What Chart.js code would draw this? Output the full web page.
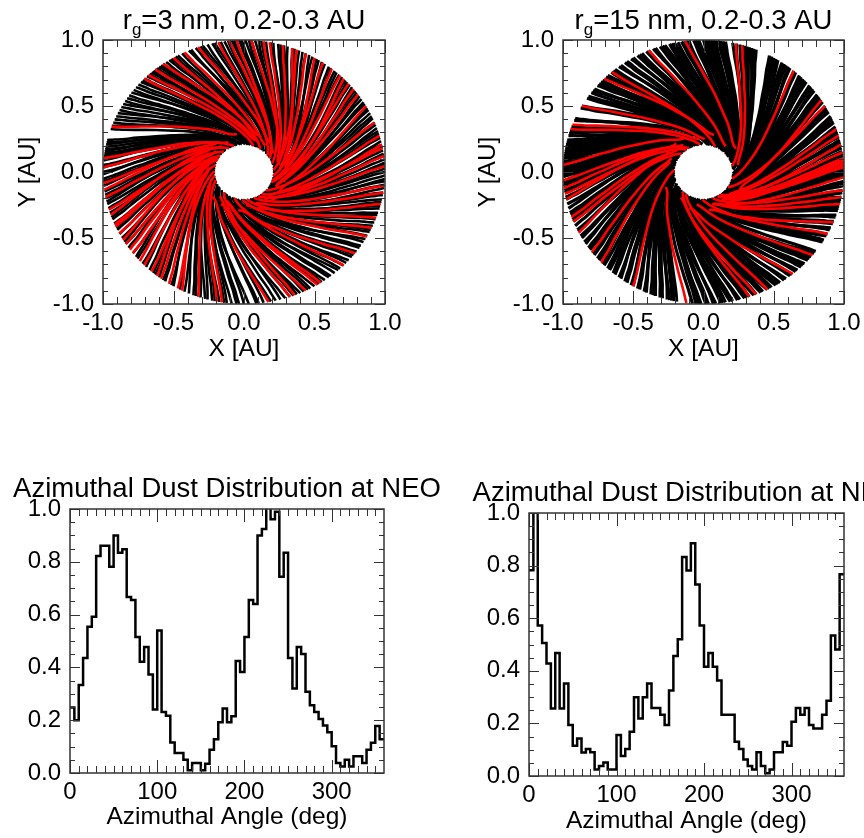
<!DOCTYPE html>
<html>
<head>
<meta charset="utf-8">
<style>
html,body{margin:0;padding:0;background:#fff;}
#page{position:relative;width:864px;height:838px;overflow:hidden;background:#fff;}
canvas{position:absolute;}
</style>
<script src="https://cdn.jsdelivr.net/npm/chart.js@4"></script>
</head>
<body>
<div id="page">
<canvas id="c1"></canvas><canvas id="c2"></canvas><canvas id="c3"></canvas><canvas id="c4"></canvas>
</div>
<script>
// Trajectory shapes: radius (AU) and angular lag behind the rim point (deg),
// for launch radii near 0.21, 0.25 and 0.29 AU
const trackRadiiNear=[1.0,0.95,0.9,0.8,0.7,0.6,0.5,0.45,0.4,0.35,0.3,0.27,0.25,0.23,0.21];
const trackLagNear=[0,0.8,1.8,4.5,8,12.5,19,23,28,34,42,48,53,58,64];
const trackRadiiMid=[1.0,0.95,0.9,0.8,0.7,0.6,0.5,0.45,0.4,0.35,0.3,0.27,0.25];
const trackLagMid=[0,1,2,5,8.5,13.5,20,24.5,30,37,46,53,62];
const trackRadiiFar=[1.0,0.95,0.9,0.8,0.7,0.6,0.5,0.45,0.4,0.35,0.3,0.29];
const trackLagFar=[0,1.1,2.3,5.5,9.5,15,22,27,33.5,41,52,60];
const launchPattern=[0,1,0,2,1,0,2,1,1,0,2];

// Rim angles (deg) of trajectories, left panel
const blackRimA=[0,1.5,3,4,5.5,7,8,9.5,11,12,13.5,15,17,18,19.5,21,22,24,25,26.5,28,29,31,32,33.5,35,37,38,40,41.5,43,44,46,47.5,49,50,52,53,55,56.5,58,59,61,62.5,64,65.5,67,69,70,72,73.5,75,76,78,79,81,83,84,85.5,87,88,89.5,91,92,94,95,96.5,98,99.5,102,103,105,107,108,110,112,113,116,118,119,121,122,123.5,125,126,127,128,129,130,131,132,133.5,135,136,137,138.5,140,141.5,143,144.5,146,147.5,149,150.5,152,153.5,155,156.5,158,159.5,161,166,167,168,169,170,171,172,173,174,175,177,178,180,181,183,184,186,188.5,190,191.5,193,194,196,198,200,201,203,205,206,208,210,212,213,215,218,220,221,224,226,228,230,231,233,235,236,239,240,243,245,247,249,250,252,254,255,257,258,260,262,263,265,267,268,270,272,275,276,278,281,283,285,287,289,290.5,292,293.5,295,297,298,300,302,303.5,305,307,308,310,312,313,315,316.5,318,320,321,323,325,326,328,329.5,331,333,334,336,337.5,339,341,342,344,345,347,348,350,351,353,354.5,356,357,358.5];
const redRimA=[2.5,7,10.4,12,16,22,30,36,39,42,45,47,51.5,56,60,64,68,70,74,79.5,82,87,93,96,100.5,109,115,120,125,129,132.7,135,160,174,178,184.8,187.7,191,196.6,199,203.5,204.5,207.7,210.9,213,216,218,222.4,225,229,232,234,237.9,242,244,251,259,261,280,289,291,296,301.4,303,315,322,330.7,335,339.7,346,351,354];

// Rim angles (deg) of trajectories, right panel
const blackRimB=[0,1,2,3,4.5,6,7,8,9,10.5,12,13,14,15.5,17,18,19,20,22,23,24,25,27,28,29,30,32,33,34,35,36,38,39,40,41,43,44,45,46,47,49,50,52,53,54,55,56,58,59,60,61,62,68,69,70,71,72,73,74,75,76.5,78,81,82,83,84,85,86,87,88,89,90,92,93,94,96,97,98,99,100.5,102,103,104,106,107,108,110,111,113,114,116,117,118,120,121,123,124,126,127,129,130,131,133,134,136,137,138,139,141,142,143,145,146,150,151,156,157,160,161,162,163,164,166,167,168,169,170,171,172,173,174,175,176,178,179,180,181,182,184,185,186,188,189,191,192,194,196,198,199,201,202,204,206,207,209,210,212,213,215,216,218,219,221,222,224,225,227,228,230,231,233,234,236,237,239,240,242,243,245,246,248,249,250,252,253,255,256,257,258,259,265.5,267,268,269,271,272,274,275,277,278,279,281,282,284,285,287,288,289,291,292,294,295,297,298,299,301,302,303,305,306,308,309,311,312,314,315,316,318,319,320,322,323,328,329,331,332,334,335,337,338,340,341,343,344,345,347,348,349,351,352,354,355,356,358,359];
const redRimB=[2,3,4,5,6,8.5,12,16,19,30,33,50,74,76.6,97.5,113,130.7,135,150,159,161,177,183.6,187,189.5,192,200,202,207.4,217.4,223.3,240,263,289,292,297,309.5,321,332,337.6,346,349,352,357.7];

// Histogram: bin left edges (deg) and bin values
const binEdges=[0,5,10,15,20,25,30,35,40,45,50,55,60,65,70,75,80,85,90,95,100,105,110,115,120,125,130,135,140,145,150,155,160,165,170,175,180,185,190,195,200,205,210,215,220,225,230,235,240,245,250,255,260,265,270,275,280,285,290,295,300,305,310,315,320,325,330,335,340,345,350,355,360];
const histLeft=[0.248,0.2,0.333,0.436,0.554,0.592,0.822,0.861,0.861,0.781,0.9,0.834,0.848,0.667,0.655,0.515,0.421,0.477,0.373,0.241,0.54,0.231,0.217,0.116,0.076,0.076,0.05,0.01,0.038,0.038,0.01,0.035,0.088,0.128,0.192,0.244,0.192,0.215,0.424,0.383,0.515,0.655,0.64,0.9,0.924,1.03,0.961,0.99,0.743,0.834,0.436,0.32,0.477,0.451,0.308,0.257,0.231,0.205,0.18,0.154,0.101,0.038,0.025,0.05,0.025,0.063,0.063,0.038,0.088,0.115,0.178,0.128,0.128];
const histRight=[0.782,1.2,0.572,0.506,0.428,0.257,0.468,0.257,0.352,0.194,0.115,0.143,0.089,0.103,0.09,0.025,0.038,0.051,0.025,0.025,0.156,0.076,0.103,0.168,0.299,0.219,0.299,0.352,0.259,0.259,0.233,0.194,0.325,0.456,0.52,0.833,0.781,0.885,0.728,0.572,0.415,0.468,0.415,0.363,0.233,0.233,0.233,0.13,0.103,0.063,0.038,0.025,0.09,0.038,0.01,0.025,0.09,0.09,0.129,0.115,0.206,0.259,0.233,0.259,0.194,0.181,0.181,0.233,0.286,0.534,0.481,0.767,0.767];

// Tick marks
const spatialMajor=[-1,-0.5,0,0.5,1];
const spatialMinor=[-0.9,-0.8,-0.7,-0.6,-0.4,-0.3,-0.2,-0.1,0.1,0.2,0.3,0.4,0.6,0.7,0.8,0.9];
const angleMajor=[0,100,200,300];
const angleMinor=[10,20,30,40,50,60,70,80,90,110,120,130,140,150,160,170,180,190,210,220,230,240,250,260,270,280,290,310,320,330,340,350];
const fracMajor=[0,0.2,0.4,0.6,0.8,1];
const fracMinor=[0.05,0.1,0.15,0.25,0.3,0.35,0.45,0.5,0.55,0.65,0.7,0.75,0.85,0.9,0.95];

const titleLeftParts=['r','g','=3 nm, 0.2-0.3 AU'];
const titleRightParts=['r','g','=15 nm, 0.2-0.3 AU'];
const titleHist=['Azimuthal Dust Distribution at NEO','',''];

const FONT='"Liberation Sans", Arial, sans-serif';
const TICKPX=24, TITLEPX=27.5, LABELPX=24.5;

const frame={
  id:'frame',
  afterDraw(chart,args,o){
    const {ctx,chartArea:a,scales:{x,y}}=chart;
    ctx.save();
    ctx.strokeStyle='#333';
    ctx.lineWidth=1;
    const tick=(v,len,axis)=>{
      ctx.beginPath();
      if(axis==='x'){
        const p=Math.round(x.getPixelForValue(v))+0.5;
        ctx.moveTo(p,a.bottom);ctx.lineTo(p,a.bottom-len);
        ctx.moveTo(p,a.top);ctx.lineTo(p,a.top+len);
      }else{
        const p=Math.round(y.getPixelForValue(v))+0.5;
        ctx.moveTo(a.left,p);ctx.lineTo(a.left+len,p);
        ctx.moveTo(a.right,p);ctx.lineTo(a.right-len,p);
      }
      ctx.stroke();
    };
    o.xMajor.forEach(v=>tick(v,13,'x'));
    o.xMinor.forEach(v=>tick(v,7,'x'));
    o.yMajor.forEach(v=>tick(v,10,'y'));
    o.yMinor.forEach(v=>tick(v,5,'y'));
    ctx.lineWidth=1.5;
    ctx.strokeRect(a.left,a.top,a.right-a.left,a.bottom-a.top);
    const big=TITLEPX+'px '+FONT, small=Math.round(TITLEPX*0.62)+'px '+FONT;
    ctx.fillStyle='#000';
    ctx.textBaseline='alphabetic';
    ctx.textAlign='left';
    ctx.font=big;const w1=ctx.measureText(o.head[0]).width,w3=ctx.measureText(o.head[2]).width;
    ctx.font=small;const w2=ctx.measureText(o.head[1]).width;
    let px=(a.left+a.right)/2-(w1+w2+w3)/2;
    const by=o.headY;
    ctx.font=big;ctx.fillText(o.head[0],px,by);px+=w1;
    if(o.head[1]){ctx.font=small;ctx.fillText(o.head[1],px,by+6);px+=w2;}
    if(o.head[2]){ctx.font=big;ctx.fillText(o.head[2],px,by);}
    ctx.restore();
  }
};

const shapeRadii=[trackRadiiNear,trackRadiiMid,trackRadiiFar];
const shapeLag=[trackLagNear,trackLagMid,trackLagFar];
function spiral(rimDeg,color,width,idx){
  const s=launchPattern[idx%launchPattern.length];
  const pts=shapeRadii[s].map((r,i)=>{
    const t=(rimDeg-shapeLag[s][i])*Math.PI/180;
    return {x:r*Math.cos(t),y:r*Math.sin(t)};
  });
  return {data:pts,borderColor:color,borderWidth:width,pointRadius:0,tension:0.4,fill:false};
}

function axisBase(min,max,step,fmt,titleText,titlePad,size,isX){
  return {
    type:'linear',min,max,
    grid:{display:false,drawTicks:false},
    border:{display:false},
    ticks:{stepSize:step,includeBounds:false,autoSkip:false,maxRotation:0,minRotation:0,padding:isX?5:9,color:'#000',
      font:{family:FONT,size:TICKPX},callback:fmt},
    title:{display:!!titleText,text:titleText||'',color:'#000',font:{family:FONT,size:LABELPX},padding:titlePad},
    afterFit(s){
      if(isX){s.height=size;}else{s.width=size;}
      s.paddingLeft=s.paddingRight=s.paddingTop=s.paddingBottom=0;
    }
  };
}

function build(id,box,plot,datasets,cfg){
  const cv=document.getElementById(id);
  cv.style.left=box.left+'px';cv.style.top=box.top+'px';
  cv.width=box.w;cv.height=box.h;
  cv.style.width=box.w+'px';cv.style.height=box.h+'px';
  const yW=plot.l-box.left, xH=box.top+box.h-plot.b;
  return new Chart(cv,{
    type:'line',
    data:{datasets},
    options:{
      responsive:false,animation:false,devicePixelRatio:1,
      parsing:false,normalized:true,
      layout:{padding:{left:0,right:box.left+box.w-plot.r,top:plot.t-box.top,bottom:0}},
      events:[],
      plugins:{
        legend:{display:false},tooltip:{enabled:false},title:{display:false},
        frame:{xMajor:cfg.xMajor,xMinor:cfg.xMinor,yMajor:cfg.yMajor,yMinor:cfg.yMinor,head:cfg.head,headY:cfg.headY-box.top}
      },
      scales:{
        x:axisBase(cfg.xMin,cfg.xMax,cfg.xStep,cfg.xFmt,cfg.xTitle,{top:0,bottom:0},xH,true),
        y:axisBase(cfg.yMin,cfg.yMax,cfg.yStep,v=>Number(v).toFixed(1),cfg.yTitle,{top:cfg.yTitlePad,bottom:0},yW,false)
      }
    },
    plugins:[frame]
  });
}

const spatialCfg={xMin:-1,xMax:1,xStep:0.5,yMin:-1,yMax:1,yStep:0.5,xFmt:v=>Number(v).toFixed(1),
  xMajor:spatialMajor,xMinor:spatialMinor,yMajor:spatialMajor,yMinor:spatialMinor,
  xTitle:'X [AU]',yTitle:'Y [AU]',yTitlePad:14,headY:29};

// Chart.js paints the first dataset last, so red comes first to lie on top of black
build('c1',{left:0,top:0,w:432,h:364},{l:103,t:40,r:385,b:304},
  redRimA.map((d,i)=>spiral(d,'#ff0000',2.6,i)).concat(blackRimA.map((d,i)=>spiral(d,'#000',2.6,i))),
  Object.assign({},spatialCfg,{head:titleLeftParts}));

build('c2',{left:460,top:0,w:432,h:364},{l:563,t:40,r:844,b:304},
  redRimB.map((d,i)=>spiral(d,'#ff0000',2.6,i)).concat(blackRimB.map((d,i)=>spiral(d,'#000',3.2,i))),
  Object.assign({},spatialCfg,{head:titleRightParts}));

function histSet(vals){
  return [{data:binEdges.map((e,i)=>({x:e,y:vals[i]})),borderColor:'#000',borderWidth:2.5,pointRadius:0,stepped:'before',fill:false}];
}
const histCfg={xMin:0,xMax:360,xStep:100,yMin:0,yMax:1,yStep:0.2,
  xFmt:v=>angleMajor.includes(v)?String(v):'',
  xMajor:angleMajor,xMinor:angleMinor,yMajor:fracMajor,yMinor:fracMinor,
  xTitle:'Azimuthal Angle (deg)',yTitle:'',yTitlePad:0,head:titleHist};

build('c3',{left:0,top:470,w:454,h:362},{l:70,t:509,r:384,b:773},histSet(histLeft),Object.assign({},histCfg,{headY:497}));
build('c4',{left:450,top:474,w:473,h:362},{l:529,t:513,r:844,b:776},histSet(histRight),Object.assign({},histCfg,{headY:501}));
</script>
</body>
</html>
